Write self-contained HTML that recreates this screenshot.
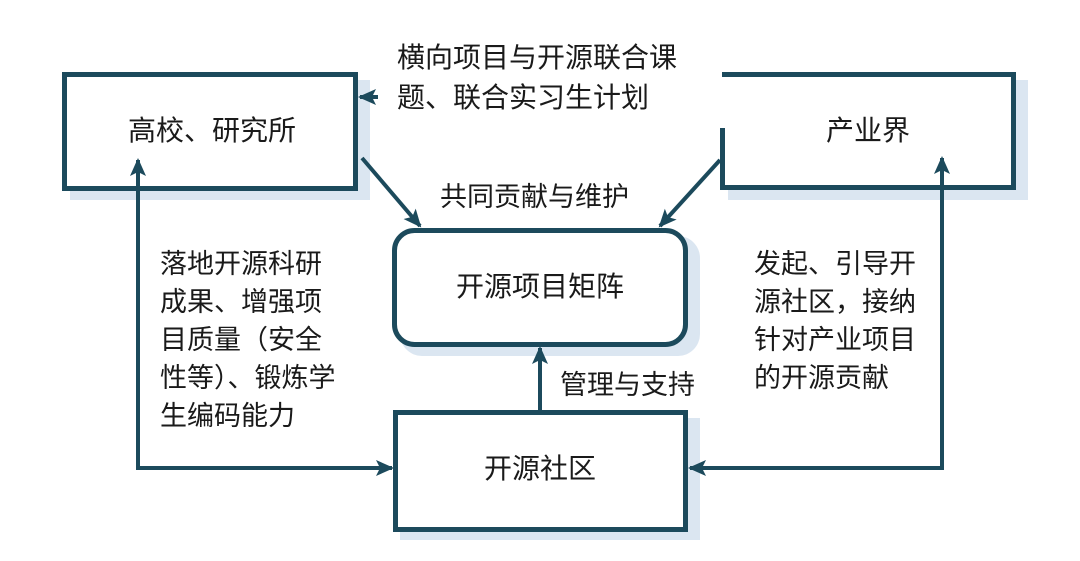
<!DOCTYPE html>
<html><head><meta charset="utf-8"><style>
html,body{margin:0;padding:0;background:#fff;}
body{width:1080px;height:561px;position:relative;overflow:hidden;font-family:"Liberation Sans","Noto Sans CJK SC",sans-serif;color:#1a1a1a;}
.t{position:absolute;font-size:27px;line-height:38px;white-space:nowrap;}
</style></head><body>
<svg width="1080" height="561" style="position:absolute;left:0;top:0">
<defs>
<marker id="a" markerWidth="10" markerHeight="10" refX="8" refY="5" orient="auto" markerUnits="userSpaceOnUse"><path d="M0,0 L10,5 L0,10 Z" fill="#1c4a5c"/></marker>
<marker id="b" markerWidth="20" markerHeight="20" refX="16" refY="10" orient="auto" markerUnits="userSpaceOnUse"><path d="M0,2 L18,10 L0,18 L4,10 Z" fill="#1c4a5c"/></marker>
</defs>
<!-- shadows -->
<rect x="70" y="80" width="300" height="120" fill="#dbe6f1"/>
<rect x="728" y="80" width="300" height="120" fill="#dbe6f1"/>
<rect x="400" y="236" width="300" height="120" rx="22" fill="#dbe6f1"/>
<rect x="400" y="418" width="300" height="122" fill="#dbe6f1"/>
<!-- boxes -->
<rect x="64.5" y="74.5" width="291" height="114" fill="#fff" stroke="#1c4a5c" stroke-width="5"/>
<rect x="722" y="74" width="292" height="114" fill="#fff"/>
<polyline points="722,74.5 1013.5,74.5 1013.5,187.5 722.5,187.5 722.5,128" fill="none" stroke="#1c4a5c" stroke-width="5"/>
<rect x="394.5" y="230.5" width="291" height="114" rx="20" fill="#fff" stroke="#1c4a5c" stroke-width="5"/>
<rect x="395.5" y="412.5" width="290" height="117" fill="#fff" stroke="#1c4a5c" stroke-width="5"/>
<!-- connectors -->
<g stroke="#1c4a5c" stroke-width="4" fill="none">
<line x1="138" y1="468" x2="138" y2="160" marker-end="url(#b)"/>
<line x1="136" y1="468" x2="392" y2="468" marker-end="url(#b)"/>
<line x1="942" y1="468" x2="942" y2="158" marker-end="url(#b)"/>
<line x1="944" y1="468" x2="690" y2="468" marker-end="url(#b)"/>
<line x1="540" y1="410" x2="540" y2="348" marker-end="url(#b)"/>
<line x1="362" y1="158" x2="420" y2="226" marker-end="url(#b)"/>
<line x1="720" y1="160" x2="660" y2="226" marker-end="url(#b)"/>
<line x1="378" y1="97" x2="360" y2="97" marker-end="url(#b)"/>
</g>
</svg>
<div class="t" style="left:128px;top:112px;font-size:28px">高校、研究所</div>
<div class="t" style="left:826px;top:112px;font-size:28px">产业界</div>
<div class="t" style="left:456px;top:268px;font-size:28px">开源项目矩阵</div>
<div class="t" style="left:484px;top:450px;font-size:28px">开源社区</div>
<div class="t" style="left:397px;top:38px;font-size:28px;line-height:40px">横向项目与开源联合课<br>题、联合实习生计划</div>
<div class="t" style="left:440px;top:178px">共同贡献与维护</div>
<div class="t" style="left:560px;top:366px">管理与支持</div>
<div class="t" style="left:160px;top:245px">落地开源科研<br>成果、增强项<br>目质量（安全<br>性等）、锻炼学<br>生编码能力</div>
<div class="t" style="left:754px;top:245px">发起、引导开<br>源社区，接纳<br>针对产业项目<br>的开源贡献</div>
</body></html>
